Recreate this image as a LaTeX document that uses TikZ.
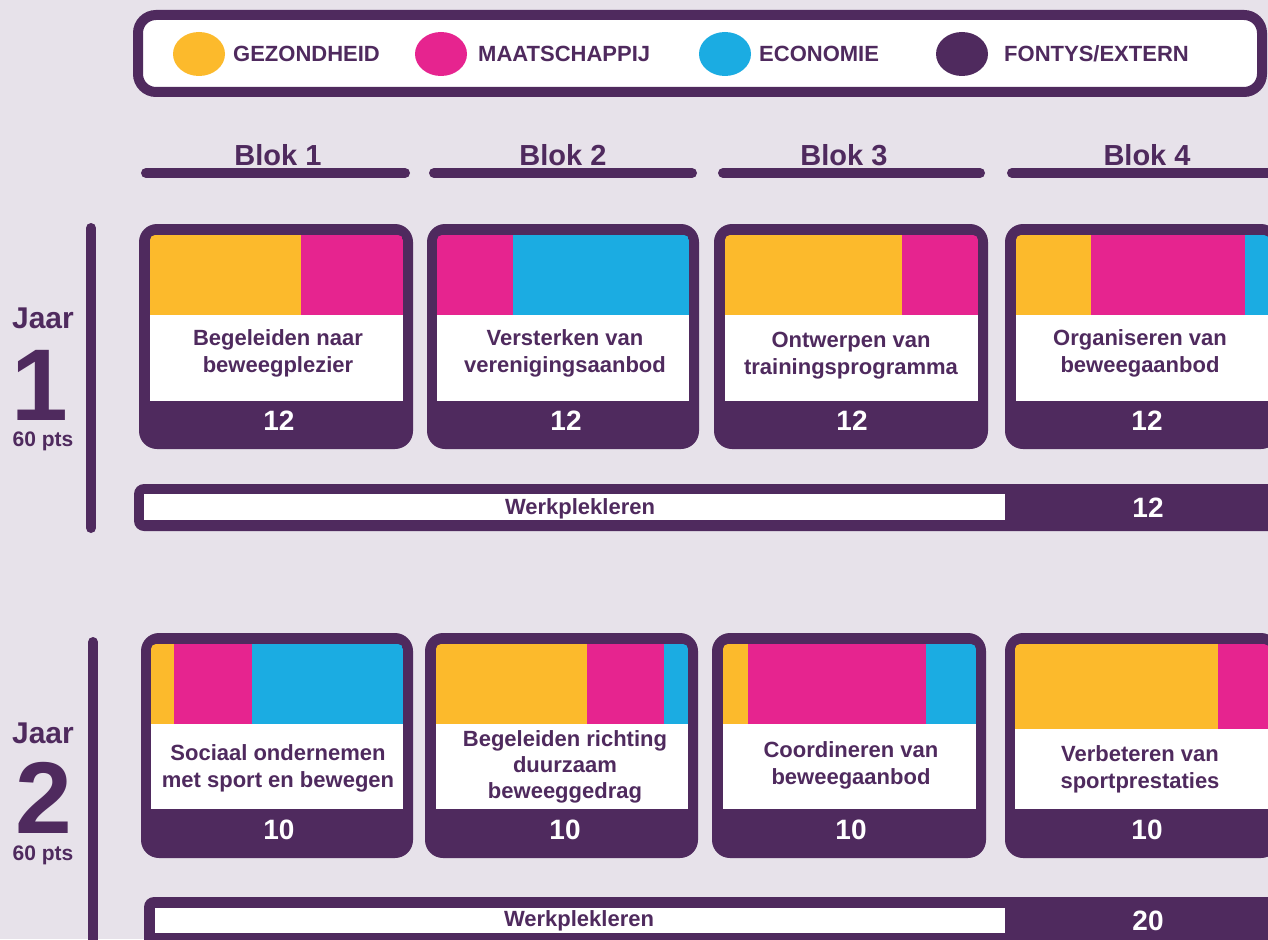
\documentclass[tikz,border=0pt]{standalone}
\usepackage{fontspec}
\setmainfont{Liberation Sans}
\usepackage{tikz}
\definecolor{paars}{RGB}{79,42,94}
\definecolor{geel}{RGB}{252,186,44}
\definecolor{roze}{RGB}{230,36,143}
\definecolor{blauw}{RGB}{27,172,226}
\definecolor{achtergrond}{RGB}{231,226,234}
\tikzset{
  kaart/.style={fill=paars, rounded corners=18},
  kop/.style={rounded corners=5},
  kaarttekst/.style={align=center, text=paars, inner sep=0, font=\bfseries\fontsize{22}{27}\selectfont},
  punten/.style={text=white, inner sep=0, font=\bfseries\fontsize{28}{30}\selectfont},
  blok/.style={text=paars, anchor=base, inner sep=0, font=\bfseries\fontsize{29}{32}\selectfont},
  legenda/.style={text=paars, anchor=base west, inner sep=0, font=\bfseries\fontsize{22}{24}\selectfont},
  werk/.style={text=paars, anchor=base, inner sep=0, font=\bfseries\fontsize{22}{24}\selectfont},
  jaartal/.style={text=paars, anchor=base, inner sep=0, font=\bfseries\fontsize{30}{32}\selectfont},
  cijfer/.style={text=paars, anchor=base, inner sep=0, font=\bfseries\fontsize{102}{104}\selectfont},
  pts/.style={text=paars, anchor=base, inner sep=0, font=\bfseries\fontsize{21}{24}\selectfont},
  streep/.style={draw=paars, line width=10, line cap=round},
}

\begin{document}
\begin{tikzpicture}[x=1pt,y=-1pt]
\fill[achtergrond] (0,0) rectangle (1268,939);
\useasboundingbox (0,0) rectangle (1268,939);
% legenda
\draw[paars, line width=10, fill=white, rounded corners=18] (138,15) rectangle (1262,92);
\fill[geel] (199,54) ellipse [x radius=26, y radius=22];
\fill[roze] (441,54) ellipse [x radius=26, y radius=22];
\fill[blauw] (725,54) ellipse [x radius=26, y radius=22];
\fill[paars] (962,54) ellipse [x radius=26, y radius=22];
\node[legenda] (gez) at (233,62) {GEZONDHEID};
\node[legenda] (maa) at (478,62) {MAATSCHAPPIJ};
\node[legenda] (eco) at (759,62) {ECONOMIE};
\node[legenda] (fon) at (1004,62) {FONTYS/EXTERN};
% blokken
\node[blok] (blok1) at (278,165) {Blok 1};
\node[blok] (blok2) at (563,165) {Blok 2};
\node[blok] (blok3) at (844,165) {Blok 3};
\node[blok] (blok4) at (1147,165) {Blok 4};
\draw[streep] (146,173) -- (405,173);
\draw[streep] (434,173) -- (692,173);
\draw[streep] (723,173) -- (980,173);
\draw[streep] (1012,173) -- (1275,173);
% jaar 1
\node[jaartal] (jaar1) at (43,328) {Jaar};
\node[cijfer] (een) at (40,420) {1};
\node[pts] (pts1) at (43,446) {60 pts};
\draw[streep] (91,228) -- (91,528);
% kaarten jaar 1
\fill[kaart] (139,224) rectangle (413,449);
\begin{scope}
\clip[kop] (150,235) rectangle (403,330);
\fill[geel] (150,235) rectangle (301,315);
\fill[roze] (301,235) rectangle (403,315);
\end{scope}
\fill[white] (150,315) rectangle (403,401);
\node[kaarttekst] (k11) at (278,353) {Begeleiden naar\\beweegplezier};
\node[punten] (p11) at (279,421) {12};
\fill[kaart] (427,224) rectangle (699,449);
\begin{scope}
\clip[kop] (437,235) rectangle (689,330);
\fill[roze] (437,235) rectangle (513,315);
\fill[blauw] (513,235) rectangle (689,315);
\end{scope}
\fill[white] (437,315) rectangle (689,401);
\node[kaarttekst] (k12) at (565,353) {Versterken van\\verenigingsaanbod};
\node[punten] (p12) at (566,421) {12};
\fill[kaart] (714,224) rectangle (988,449);
\begin{scope}
\clip[kop] (725,235) rectangle (978,330);
\fill[geel] (725,235) rectangle (902,315);
\fill[roze] (902,235) rectangle (978,315);
\end{scope}
\fill[white] (725,315) rectangle (978,401);
\node[kaarttekst] (k13) at (851,356) {Ontwerpen van\\trainingsprogramma};
\node[punten] (p13) at (852,421) {12};
\fill[kaart] (1005,224) rectangle (1279,449);
\begin{scope}
\clip[kop] (1016,235) rectangle (1269,330);
\fill[geel] (1016,235) rectangle (1091,315);
\fill[roze] (1091,235) rectangle (1245,315);
\fill[blauw] (1245,235) rectangle (1269,315);
\end{scope}
\fill[white] (1016,315) rectangle (1269,401);
\node[kaarttekst] (k14) at (1140,353) {Organiseren van\\beweegaanbod};
\node[punten] (p14) at (1147,421) {12};
% werkplekleren jaar 1
\fill[paars, rounded corners=10] (134,484) rectangle (1290,531);
\fill[white] (144,494) rectangle (1005,520);
\node[werk] (wp1) at (580,514) {Werkplekleren};
\node[punten] (wpp1) at (1148,508) {12};
% jaar 2
\node[jaartal] (jaar2) at (43,743) {Jaar};
\node[cijfer] (twee) at (44,833) {2};
\node[pts] (pts2) at (43,860) {60 pts};
\draw[streep] (93,642) -- (93,960);
% kaarten jaar 2
\fill[kaart] (141,633) rectangle (413,858);
\begin{scope}
\clip[kop] (151,644) rectangle (403,740);
\fill[geel] (151,644) rectangle (174,724);
\fill[roze] (174,644) rectangle (252,724);
\fill[blauw] (252,644) rectangle (403,724);
\end{scope}
\fill[white] (151,724) rectangle (403,809);
\node[kaarttekst] (k21) at (278,768) {Sociaal ondernemen\\met sport en bewegen};
\node[punten] (p21) at (279,830) {10};
\fill[kaart] (425,633) rectangle (698,858);
\begin{scope}
\clip[kop] (436,644) rectangle (688,740);
\fill[geel] (436,644) rectangle (587,724);
\fill[roze] (587,644) rectangle (664,724);
\fill[blauw] (664,644) rectangle (688,724);
\end{scope}
\fill[white] (436,724) rectangle (688,809);
\node[kaarttekst, font=\bfseries\fontsize{22}{26}\selectfont] (k22) at (565,767) {Begeleiden richting\\duurzaam\\beweeggedrag};
\node[punten] (p22) at (565,830) {10};
\fill[kaart] (712,633) rectangle (986,858);
\begin{scope}
\clip[kop] (723,644) rectangle (976,740);
\fill[geel] (723,644) rectangle (748,724);
\fill[roze] (748,644) rectangle (926,724);
\fill[blauw] (926,644) rectangle (976,724);
\end{scope}
\fill[white] (723,724) rectangle (976,809);
\node[kaarttekst] (k23) at (851,765) {Coordineren van\\beweegaanbod};
\node[punten] (p23) at (851,830) {10};
\fill[kaart] (1005,633) rectangle (1279,858);
\begin{scope}
\clip[kop] (1015,644) rectangle (1269,740);
\fill[geel] (1015,644) rectangle (1218,729);
\fill[roze] (1218,644) rectangle (1269,729);
\end{scope}
\fill[white] (1015,729) rectangle (1269,809);
\node[kaarttekst] (k24) at (1140,769) {Verbeteren van\\sportprestaties};
\node[punten] (p24) at (1147,830) {10};
% werkplekleren jaar 2
\fill[paars, rounded corners=10] (144,897) rectangle (1290,960);
\fill[white] (155,908) rectangle (1005,933);
\node[werk] (wp2) at (579,926) {Werkplekleren};
\node[punten] (wpp2) at (1148,921) {20};
\end{tikzpicture}
\end{document}
